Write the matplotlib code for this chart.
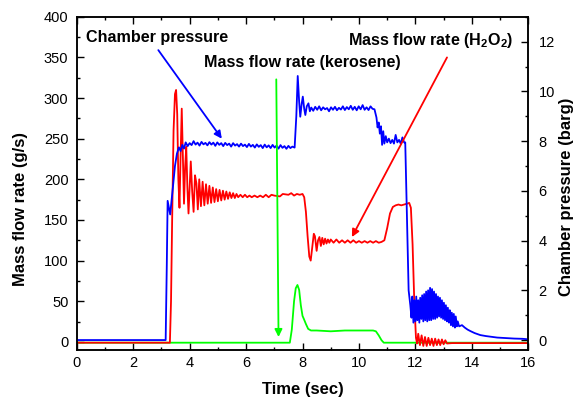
import matplotlib
matplotlib.use("Agg")
import matplotlib.pyplot as plt
import numpy as np

plt.rcParams['font.family'] = ['Liberation Sans', 'DejaVu Sans']
plt.rcParams['mathtext.fontset'] = 'custom'
plt.rcParams['mathtext.rm'] = 'Liberation Sans:bold'
plt.rcParams['mathtext.bf'] = 'Liberation Sans:bold'

# chamber pressure (barg), right axis
t_pc = [0, 3.15, 3.19, 3.22, 3.27, 3.31, 3.36, 3.42, 3.48, 3.55, 3.62, 3.68, 3.74, 3.80,
        3.86, 3.93, 4.00, 4.07, 4.14, 4.21, 4.28, 4.35, 4.42, 4.49, 4.56, 4.63, 4.70, 4.77,
        4.84, 4.91, 4.98, 5.05, 5.12, 5.19, 5.26, 5.33, 5.40, 5.47, 5.54, 5.61, 5.68, 5.75,
        5.82, 5.89, 5.96, 6.03, 6.10, 6.17, 6.24, 6.31, 6.38, 6.45, 6.52, 6.59, 6.66, 6.73,
        6.80, 6.87, 6.94, 7.01, 7.08, 7.15, 7.22, 7.29, 7.36, 7.43, 7.50, 7.57, 7.64, 7.72,
        7.78, 7.83, 7.88, 7.92, 7.97, 8.01, 8.06, 8.10, 8.15, 8.21, 8.26,
        8.31, 8.38, 8.45, 8.52, 8.59, 8.66, 8.73, 8.80, 8.87, 8.94, 9.01, 9.08, 9.15, 9.22,
        9.29, 9.36, 9.43, 9.50, 9.57, 9.64, 9.71, 9.78, 9.85, 9.92, 9.99, 10.06, 10.13,
        10.20, 10.27, 10.34, 10.41, 10.48, 10.55,
        10.62, 10.66, 10.70, 10.74, 10.78, 10.82, 10.86, 10.90, 10.95, 11.00, 11.06, 11.12,
        11.18, 11.24, 11.30, 11.36, 11.42, 11.48, 11.54, 11.60, 11.64,
        11.70, 11.76, 11.82,
        11.86, 11.89, 11.93, 11.96, 12.00, 12.03, 12.07, 12.10, 12.14, 12.17, 12.21, 12.24,
        12.28, 12.31, 12.35, 12.38, 12.42, 12.45, 12.49, 12.52, 12.56, 12.59, 12.63, 12.66,
        12.70, 12.73, 12.77, 12.80, 12.84, 12.87, 12.91, 12.94, 12.98, 13.01, 13.05, 13.08,
        13.12, 13.15, 13.19, 13.22, 13.26, 13.29, 13.33, 13.36, 13.40, 13.43, 13.47, 13.50,
        13.55, 13.65, 13.75, 13.85, 13.95, 14.1, 14.3, 14.5, 14.7, 14.9, 15.2, 15.5, 15.8, 16.0]
pc = [0.0, 0.0, 3.0, 5.6, 5.3, 5.05, 5.6, 6.3, 7.0, 7.5, 7.75, 7.6, 7.85, 7.7,
      7.95, 7.80, 7.92, 7.84, 8.00, 7.86, 7.94, 7.82, 7.97, 7.87, 7.93, 7.83, 7.96, 7.86,
      7.94, 7.81, 7.95, 7.85, 7.92, 7.80, 7.93, 7.84, 7.90, 7.78, 7.92, 7.82, 7.88, 7.78,
      7.90, 7.80, 7.86, 7.76, 7.89, 7.78, 7.85, 7.74, 7.87, 7.77, 7.84, 7.72, 7.86, 7.75,
      7.83, 7.72, 7.85, 7.74, 7.82, 7.70, 7.84, 7.73, 7.80, 7.69, 7.81, 7.72, 7.78, 7.74,
      9.0, 10.62, 9.6, 8.98, 9.5, 9.79, 9.3, 9.05, 9.4, 9.52, 9.2,
      9.35, 9.22, 9.38, 9.26, 9.40, 9.24, 9.36, 9.28, 9.33, 9.20, 9.36, 9.26, 9.38, 9.24,
      9.34, 9.27, 9.40, 9.25, 9.37, 9.28, 9.42, 9.26, 9.38, 9.24, 9.40, 9.28, 9.45,
      9.26, 9.36, 9.25, 9.40, 9.30, 9.28,
      8.95, 8.55, 8.75, 8.30, 8.60, 7.85, 8.40, 7.90, 8.20, 7.95, 8.10, 7.92,
      8.05, 7.90, 8.25, 7.95, 8.05, 7.90, 8.15, 7.95, 7.95,
      5.0, 2.0, 1.4,
      0.9, 1.75, 0.7, 1.6, 0.75, 1.75, 0.8, 1.6, 0.7, 1.7, 0.85, 1.8,
      0.75, 1.85, 0.8, 1.95, 0.75, 2.0, 0.8, 2.1, 0.8, 2.05, 0.85, 1.95,
      0.85, 1.85, 0.9, 1.75, 0.95, 1.7, 0.9, 1.6, 0.85, 1.5, 0.8, 1.4,
      0.75, 1.3, 0.7, 1.2, 0.6, 1.1, 0.55, 1.05, 0.5, 0.95, 0.55, 0.75,
      0.55, 0.6, 0.5, 0.42, 0.36, 0.28, 0.2, 0.16, 0.13, 0.1, 0.08, 0.06, 0.05, 0.03]

# H2O2 mass flow rate (g/s)
t_ox = [0, 3.30, 3.34, 3.38, 3.43, 3.48, 3.52, 3.56, 3.60, 3.64, 3.68, 3.72, 3.76, 3.80,
        3.84, 3.88, 3.92, 3.96, 4.00, 4.04, 4.09, 4.14, 4.19, 4.24, 4.29, 4.34, 4.40, 4.46,
        4.52, 4.58, 4.64, 4.70, 4.76, 4.82, 4.88, 4.94, 5.00, 5.06, 5.12, 5.18, 5.24, 5.30,
        5.36, 5.42, 5.48, 5.54, 5.60, 5.66, 5.72, 5.80, 5.88, 5.96, 6.04, 6.12, 6.2, 6.3,
        6.4, 6.5, 6.6, 6.7, 6.8, 6.9, 7.0, 7.2, 7.3, 7.5, 7.6, 7.7, 7.8, 7.9, 8.0,
        8.06, 8.12, 8.18, 8.24, 8.29, 8.34, 8.40, 8.44, 8.50, 8.55, 8.60, 8.65, 8.70, 8.75,
        8.80, 8.85, 8.90, 8.95, 9.0, 9.1, 9.2, 9.3, 9.4, 9.5, 9.6, 9.7, 9.8, 9.9, 10.0,
        10.1, 10.2, 10.3, 10.4, 10.5, 10.6, 10.7, 10.8, 10.9,
        11.0, 11.1, 11.2, 11.3, 11.4, 11.5, 11.6, 11.7, 11.78, 11.84, 11.90, 11.96, 12.02,
        12.06, 12.10, 12.16, 12.22, 12.28, 12.34, 12.40, 12.46, 12.52, 12.58, 12.64, 12.70,
        12.76, 12.82, 12.88, 12.94, 13.0, 13.06, 13.12, 13.3, 16.0]
m_ox = [-1, -1, 50, 150, 260, 305, 310, 280, 200, 165, 230, 287, 230, 170,
        215, 240, 190, 158, 190, 222, 185, 160, 205, 195, 163, 200, 167, 197,
        168, 194, 170, 192, 171, 190, 172, 188, 173, 187, 174, 186, 175, 185,
        176, 184, 177, 183, 177, 182, 178, 181, 178, 181, 178, 180, 178, 180,
        178, 180, 178, 181, 178, 181, 180, 179, 182, 181, 183, 180, 182, 181, 182,
        178, 160, 130, 105, 100, 115, 133, 130, 112, 125, 129, 118, 128, 120,
        127, 121, 126, 122, 126, 122, 126, 122, 125, 122, 125, 122, 125, 122, 124,
        122, 124, 122, 124, 122, 124, 122, 123, 125,
        140, 158, 166, 168, 169, 168, 169, 170, 171, 165, 120, 50, 5,
        -2, 10, -4, 8, -5, 6, -5, 5, -4, 4, -5, 4,
        -4, 3, -4, 3, -3, 2, -2, -1.5, -1.5]

# kerosene mass flow rate (g/s)
t_fu = [0, 7.55, 7.62, 7.70, 7.76, 7.82, 7.88, 7.94, 8.00, 8.05, 8.12, 8.20, 8.30, 8.5,
        9.0, 9.5, 10.0, 10.5, 10.6, 10.7, 10.8, 10.88, 16.0]
m_fu = [-1, -1, 15, 50, 66, 70, 64, 45, 32, 28, 22, 16, 14, 14,
        13, 14, 14, 14, 13, 8, 2, -1, -1]

fig = plt.figure(figsize=(5.86, 4.0), dpi=100)
ax = fig.add_axes([0.131, 0.125, 0.7705, 0.833])
ax2 = ax.twinx()

ax.plot(t_fu, m_fu, color='#00ff00', lw=1.3)
ax.plot(t_ox, m_ox, color='#ff0000', lw=1.3)
ax2.plot(t_pc, pc, color='#0000ff', lw=1.3)

ax.set_xlim(0, 16)
ax.set_ylim(-10, 400)
ax2.set_ylim(-0.4, 13)
ax.set_xticks(np.arange(0, 17, 2))
ax.set_xticks(np.arange(0, 17, 1), minor=True)
ax.set_yticks(np.arange(0, 401, 50))
ax.set_yticks(np.arange(0, 401, 25), minor=True)
ax2.set_yticks(np.arange(0, 13, 2))
ax2.set_yticks(np.arange(0, 14, 1), minor=True)

ax.tick_params(which='both', direction='in', top=True, labelsize=10.5, width=1)
ax.tick_params(which='major', length=5)
ax.tick_params(which='minor', length=2.5)
ax.tick_params(axis='y', which='major', pad=6)
ax.tick_params(axis='x', which='major', pad=4.5)
ax2.tick_params(which='both', direction='in', labelsize=10.5, width=1)
ax2.tick_params(which='major', length=5, pad=7.5)
ax2.tick_params(which='minor', length=2.5)
for a in (ax, ax2):
    for s in a.spines.values():
        s.set_linewidth(1.1)

ax.set_xlabel('Time (sec)', fontsize=12, fontweight='bold')
ax.set_ylabel('Mass flow rate (g/s)', fontsize=12, fontweight='bold')
ax2.set_ylabel('Chamber pressure (barg)', fontsize=12, fontweight='bold')
ax.xaxis.set_label_coords(0.5, -0.12)
ax.xaxis.label.set_va('center')
ax.yaxis.set_label_coords(-0.1256, 0.423)
ax.yaxis.label.set_va('center')
ax2.yaxis.set_label_coords(1.0857, 0.459)
ax2.yaxis.label.set_va('center')

# labels and arrows
tr = ax.transData
ax2.text(0.33, 374, 'Chamber pressure', transform=tr, fontsize=11.6, fontweight='bold',
         va='center', ha='left')
ax2.text(4.51, 344, 'Mass flow rate (kerosene)', transform=tr, fontsize=11.6,
         fontweight='bold', va='center', ha='left')
ax2.text(15.47, 371, r'Mass flow rate (H$_2$O$_2$)', transform=tr, fontsize=11.6,
         fontweight='bold', va='center', ha='right')

arr = dict(arrowstyle='-|>', lw=1.3, mutation_scale=11, shrinkA=0, shrinkB=0)
ax2.annotate('', xy=(5.14, 250), xytext=(2.89, 359), xycoords=tr, textcoords=tr,
             arrowprops=dict(arr, color='#0000ff'))
ax2.annotate('', xy=(7.15, 6), xytext=(7.07, 323), xycoords=tr, textcoords=tr,
             arrowprops=dict(arr, color='#00ff00'))
ax2.annotate('', xy=(9.75, 129), xytext=(13.12, 350), xycoords=tr, textcoords=tr,
             arrowprops=dict(arr, color='#ff0000'))

fig.savefig('out.png', dpi=100)
